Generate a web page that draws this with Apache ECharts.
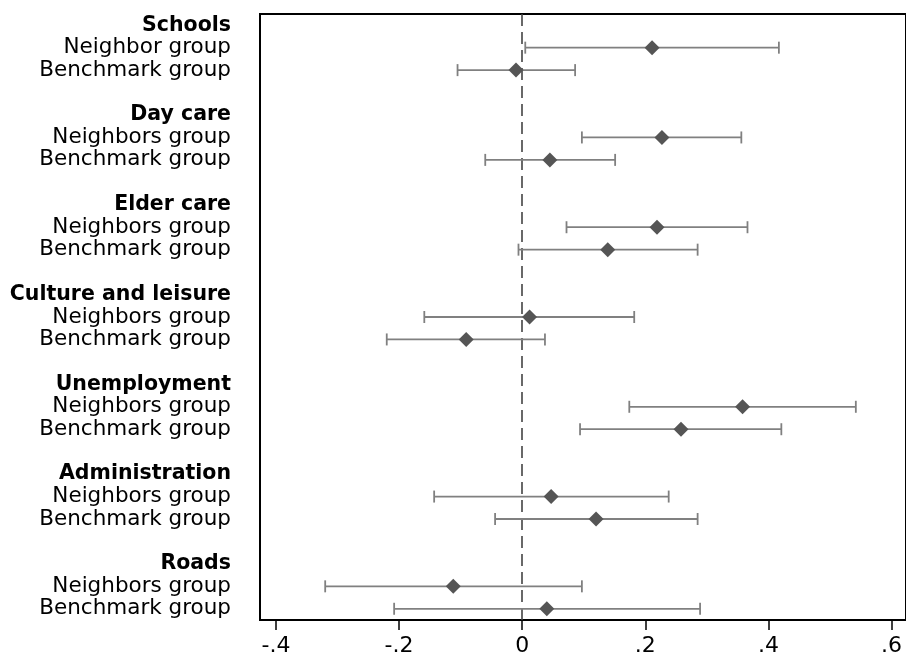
<!DOCTYPE html>
<html>
<head>
<meta charset="utf-8">
<style>html,body{margin:0;padding:0;background:#fff;overflow:hidden;}#chart{width:906px;height:657px;}</style>
<script src="https://cdn.jsdelivr.net/npm/echarts@6/dist/echarts.min.js"></script>
</head>
<body>
<div id="chart"></div>
<script>
const groups = ['Schools','Day care','Elder care','Culture and leisure','Unemployment','Administration','Roads'];
const neighborLabels = ['Neighbor group','Neighbors group','Neighbors group','Neighbors group','Neighbors group','Neighbors group','Neighbors group'];
const benchLabel = 'Benchmark group';
const neighborEst = [0.211, 0.227, 0.219, 0.012, 0.358, 0.047, -0.112];
const neighborLo  = [0.005, 0.097, 0.072, -0.159, 0.174, -0.143, -0.320];
const neighborHi  = [0.417, 0.356, 0.366, 0.182, 0.542, 0.238, 0.097];
const benchEst = [-0.010, 0.045, 0.139, -0.091, 0.258, 0.120, 0.040];
const benchLo  = [-0.105, -0.060, -0.006, -0.220, 0.094, -0.044, -0.208];
const benchHi  = [0.086, 0.151, 0.285, 0.037, 0.421, 0.285, 0.289];
const xTicks = [-0.4, -0.2, 0, 0.2, 0.4, 0.6];

const rows = [];
const titleRows = [];
const bars = [];
const points = [];
groups.forEach((g, i) => {
  titleRows.push(rows.length);
  rows.push(g);
  const nIdx = rows.length; rows.push(neighborLabels[i]);
  const bIdx = rows.length; rows.push(benchLabel);
  if (i < groups.length - 1) rows.push('');
  bars.push([neighborLo[i], neighborHi[i], nIdx]);
  bars.push([benchLo[i], benchHi[i], bIdx]);
  points.push([neighborEst[i], nIdx]);
  points.push([benchEst[i], bIdx]);
});

const FONT = 'DejaVu Sans';
function fmtX(v) {
  if (Math.abs(v) < 1e-9) return '0';
  const s = (Math.round(Math.abs(v) * 10) / 10).toString().replace(/^0/, '');
  return (v < 0 ? '-' : '') + s;
}

function renderBar(params, api) {
  const lo = api.coord([api.value(0), api.value(2)]);
  const hi = api.coord([api.value(1), api.value(2)]);
  const h = 6;
  const style = { stroke: '#808080', lineWidth: 1.8, fill: null };
  return {
    type: 'group',
    children: [
      { type: 'line', shape: { x1: lo[0], y1: lo[1], x2: hi[0], y2: hi[1] }, style },
      { type: 'line', shape: { x1: lo[0], y1: lo[1] - h, x2: lo[0], y2: lo[1] + h }, style },
      { type: 'line', shape: { x1: hi[0], y1: hi[1] - h, x2: hi[0], y2: hi[1] + h }, style }
    ]
  };
}

const chart = echarts.init(document.getElementById('chart'), null, { renderer: 'canvas', width: 906, height: 657 });
chart.setOption({
  animation: false,
  backgroundColor: '#fff',
  grid: { left: 260, right: -2, top: 14, bottom: 32, show: true, borderColor: '#000', borderWidth: 2, backgroundColor: 'transparent' },
  xAxis: {
    type: 'value', min: -0.4259, max: 0.6235, scale: true,
    splitLine: { show: false },
    axisLine: { show: true, onZero: false, lineStyle: { color: '#000', width: 2 } },
    axisTick: { show: true, length: 10, customValues: xTicks, lineStyle: { color: '#000', width: 1.5 } },
    axisLabel: { customValues: xTicks, formatter: fmtX, margin: 15, color: '#000', fontFamily: FONT, fontSize: 22 }
  },
  yAxis: {
    type: 'category', inverse: true, data: rows, boundaryGap: true,
    axisLine: { show: true, onZero: false, lineStyle: { color: '#000', width: 2 } },
    axisTick: { show: false },
    splitLine: { show: false },
    axisLabel: {
      interval: 0, margin: 29, color: '#000',
      formatter: (v, i) => titleRows.indexOf(i) >= 0 ? '{b|' + v + '}' : '{n|' + v + '}',
      rich: {
        b: { fontFamily: FONT, fontWeight: 'bold', fontSize: 20.5, color: '#000' },
        n: { fontFamily: FONT, fontSize: 21.5, color: '#000' }
      }
    }
  },
  series: [
    {
      type: 'custom', renderItem: renderBar, data: bars,
      dimensions: ['lo', 'hi', 'row'],
      encode: { x: ['lo', 'hi'], y: 'row' }, z: 2
    },
    {
      type: 'scatter', data: points, symbol: 'diamond', symbolSize: 15,
      itemStyle: { color: '#555555', opacity: 1 }, z: 3,
      markLine: {
        silent: true, symbol: 'none', label: { show: false }, z: 1,
        lineStyle: { color: '#444', width: 1.6, type: [12, 6], opacity: 1 },
        data: [{ xAxis: 0 }]
      }
    }
  ]
});
</script>
</body>
</html>
